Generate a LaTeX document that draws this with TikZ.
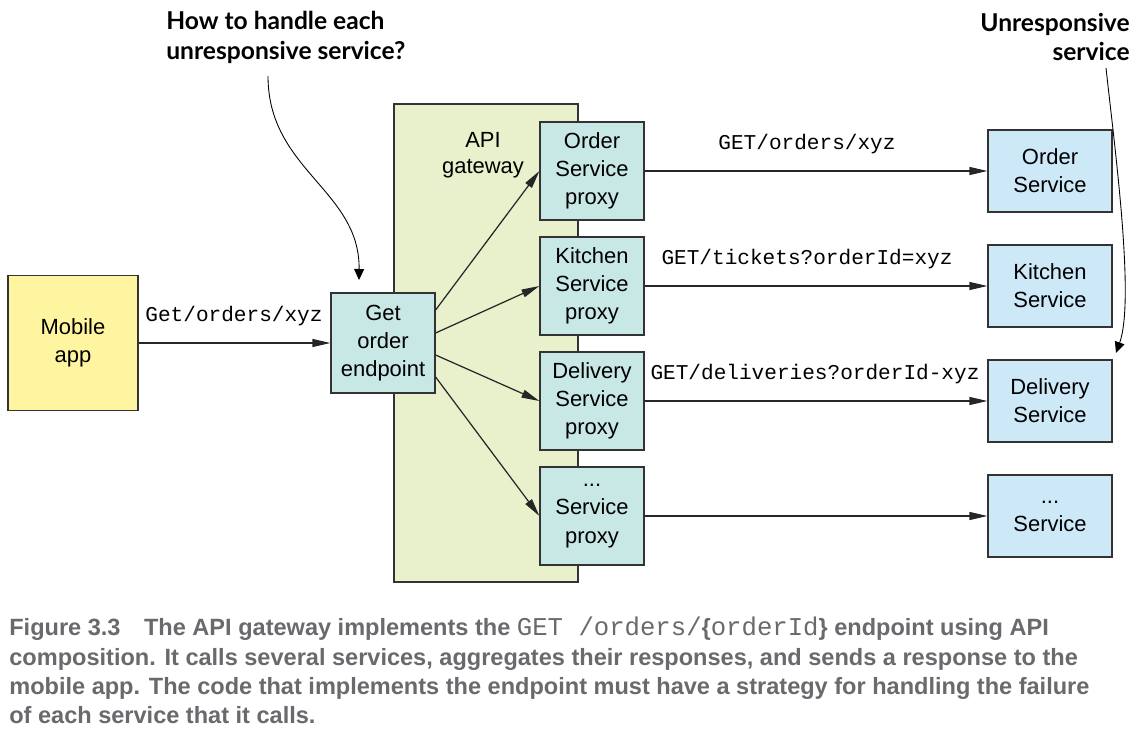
\documentclass[tikz,border=0pt]{standalone}
\usepackage{fontspec}
\setmainfont{Liberation Sans}
\newfontfamily\monofont{Liberation Mono}
\newfontfamily\notefont{Lato}
\newfontfamily\capfont{Liberation Sans}
\usetikzlibrary{arrows.meta}

\definecolor{mobileyellow}{RGB}{255,245,160}
\definecolor{gatewaygreen}{RGB}{232,240,204}
\definecolor{proxyteal}{RGB}{200,232,230}
\definecolor{serviceblue}{RGB}{205,233,248}
\definecolor{edgegray}{RGB}{51,51,51}
\definecolor{captiongray}{RGB}{105,105,110}

\newcommand{\capcode}[1]{{\monofont\mdseries\fontsize{14.6}{16}\selectfont #1}}

\tikzset{
  box/.style={draw=edgegray, line width=0.7pt, align=center, inner sep=0pt,
    font=\fontsize{12.5}{16}\selectfont},
  proxybox/.style={box, fill=proxyteal, minimum width=2.08cm, minimum height=1.96cm},
  servicebox/.style={box, fill=serviceblue, minimum width=2.48cm, minimum height=1.64cm},
  call/.style={-{Triangle[length=3.6mm,width=1.6mm]}, line width=0.7pt, draw=black!85},
  urlabel/.style={font=\monofont\fontsize{12}{14}\selectfont},
  note/.style={font=\notefont\bfseries\fontsize{14}{17}\selectfont},
  pointer/.style={-{Triangle[length=2.2mm,width=2mm]}, line width=0.5pt},
  captext/.style={anchor=base west, inner sep=0pt, text=captiongray,
    font=\capfont\bfseries\fontsize{13.4}{16}\selectfont},
}

\begin{document}
\begin{tikzpicture}[x=0.02cm,y=-0.02cm]
    \useasboundingbox (0,0) rectangle (1137,737);

    % Gateway background
    \node[box, fill=gatewaygreen, minimum width=3.68cm, minimum height=9.56cm] (gateway) at (486,343) {};
    \node[align=center, font=\fontsize{12.5}{14.8}\selectfont] (gwlabel) at (483,155) {API\\gateway};

    % Client and endpoint
    \node[box, fill=mobileyellow, minimum width=2.6cm, minimum height=2.7cm] (mobile) at (73,343) {Mobile\\app};
    \node[proxybox, minimum height=2cm] (endpoint) at (383,343) {Get\\order\\endpoint};

    % Proxies
    \node[proxybox] (oproxy) at (592,171) {Order\\Service\\proxy};
    \node[proxybox] (kproxy) at (592,286) {Kitchen\\Service\\proxy};
    \node[proxybox] (dproxy) at (592,401) {Delivery\\Service\\proxy};
    \node[proxybox] (xproxy) at (592,516) {...\\Service\\proxy};

    % Services
    \node[servicebox] (oservice) at (1050,171) {Order\\Service};
    \node[servicebox] (kservice) at (1050,286) {Kitchen\\Service};
    \node[servicebox] (dservice) at (1050,401) {Delivery\\Service};
    \node[servicebox] (xservice) at (1050,516) {...\\Service};

    % Request arrows
    \draw[call] (mobile) -- (endpoint);
    \draw[call] ([yshift=0.66cm]endpoint.east) -- (oproxy.west);
    \draw[call] ([yshift=0.2cm]endpoint.east) -- (kproxy.west);
    \draw[call] ([yshift=-0.24cm]endpoint.east) -- (dproxy.west);
    \draw[call] ([yshift=-0.68cm]endpoint.east) -- (xproxy.west);
    \draw[call] (oproxy) -- (oservice);
    \draw[call] (kproxy) -- (kservice);
    \draw[call] (dproxy) -- (dservice);
    \draw[call] (xproxy) -- (xservice);

    % Request labels
    \node[urlabel] (getlabel) at (234,316) {Get/orders/xyz};
    \node[urlabel] (olabel) at (807,144) {GET/orders/xyz};
    \node[urlabel] (klabel) at (807,259) {GET/tickets?orderId=xyz};
    \node[urlabel] (dlabel) at (815,374) {GET/deliveries?orderId-xyz};

    % Notes
    \node[note, anchor=west, align=left, inner sep=0pt] (handlenote) at (166,37) {How to handle each\\unresponsive service?};
    \node[note, anchor=east, align=right, inner sep=0pt] (downnote) at (1130,37) {Unresponsive\\service};
    \coordinate (handlefrom) at (268,76);
    \coordinate (handleto) at (359,280);
    \coordinate (downfrom) at (1106,68);
    \coordinate (downto) at (1116,353);
    \draw[pointer] (handlefrom) .. controls (268,170) and (360,190) .. (handleto);
    \draw[pointer] (downfrom) .. controls (1115,150) and (1135,300) .. (downto);

    % Caption
    \node[captext] (cap1) at (9,635) {Figure 3.3\hspace{1em}The API gateway implements the \capcode{GET /orders/}\{\capcode{orderId}\} endpoint using API};
    \node[captext] (cap2) at (9,665) {composition. It calls several services, aggregates their responses, and sends a response to the};
    \node[captext] (cap3) at (9,694) {mobile app. The code that implements the endpoint must have a strategy for handling the failure};
    \node[captext] (cap4) at (9,723) {of each service that it calls.};
\end{tikzpicture}
\end{document}
